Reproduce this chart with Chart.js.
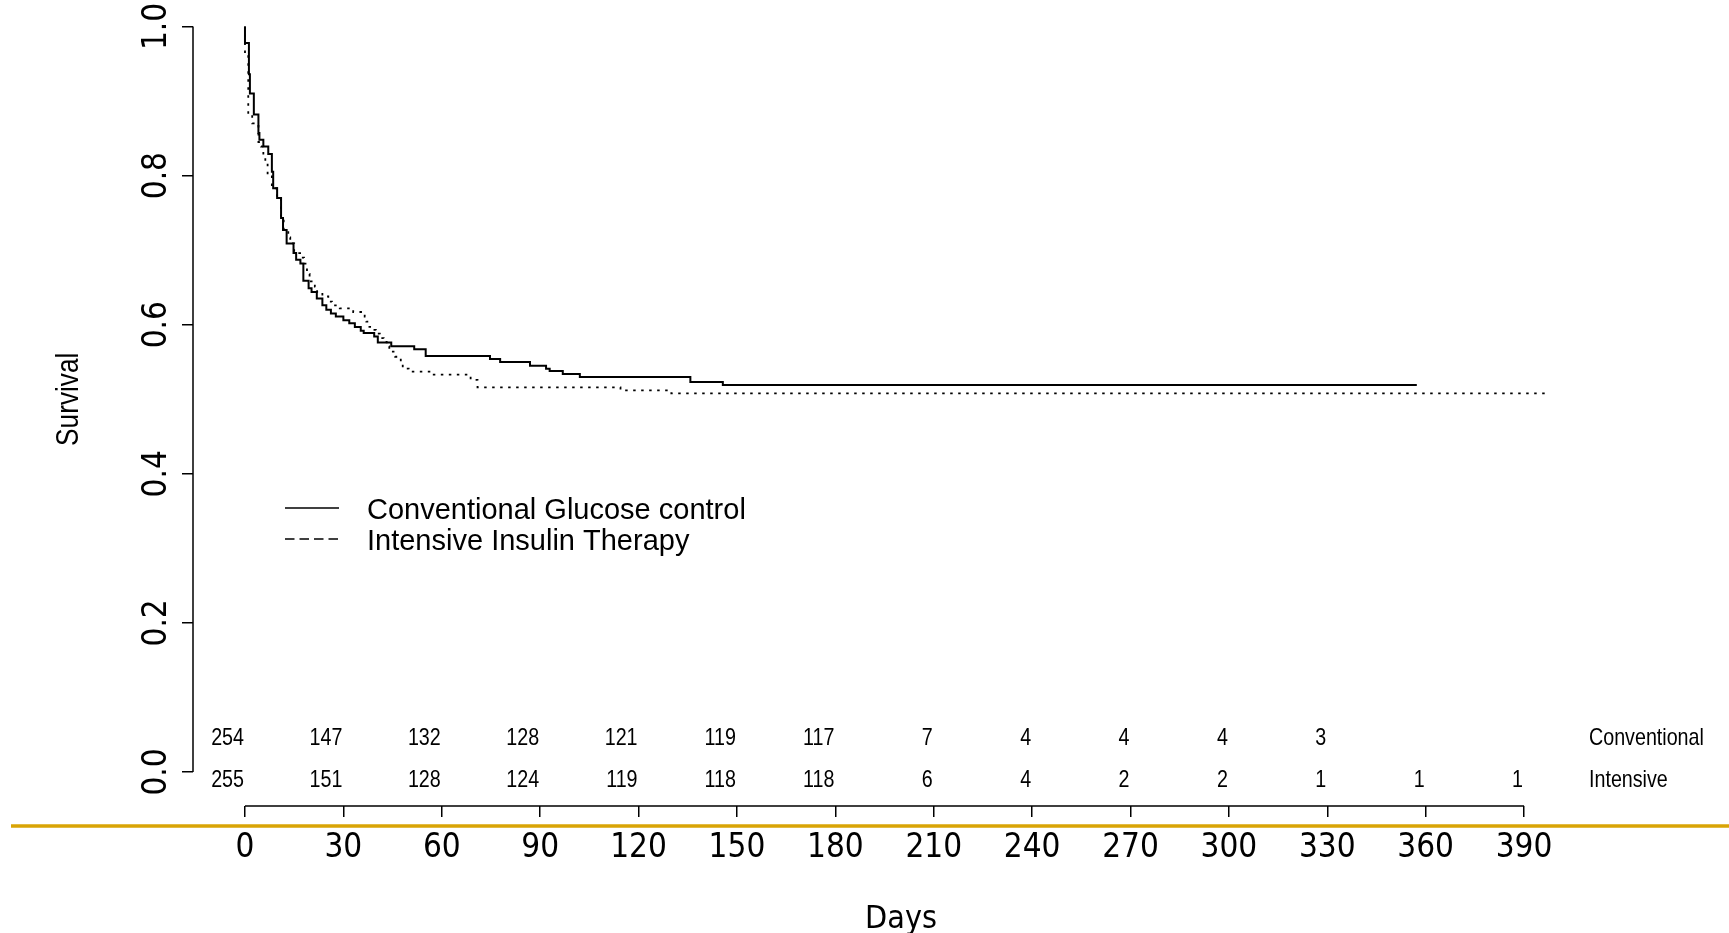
<!DOCTYPE html>
<html><head><meta charset="utf-8">
<script src="https://cdn.jsdelivr.net/npm/chart.js@4.4.1/dist/chart.umd.min.js"></script>
<style>html,body{margin:0;padding:0;background:#fff;overflow:hidden}canvas{display:block}</style>
</head><body>
<canvas id="c" width="1729" height="933"></canvas>
<script>
// ---------- data ----------
const seriesLabels = ['Conventional Glucose control', 'Intensive Insulin Therapy'];
const conventionalDays = [0, 0, 1.2, 1.5, 2.7, 4.1, 4.4, 5.6, 7.1, 8.2, 8.6, 9.8, 11.0, 11.6, 12.7, 14.8, 15.6, 16.9, 17.8, 19.4, 20.3, 21.9, 23.6, 24.8, 26.2, 27.7, 30.0, 31.8, 33.5, 35.3, 36.2, 39.4, 40.5, 44.6, 51.6, 55.1, 74.7, 77.8, 86.9, 91.8, 92.9, 96.9, 102.1, 135.8, 145.7, 357.3];
const conventionalSurv = [1.0, 0.978, 0.936, 0.910, 0.882, 0.857, 0.848, 0.839, 0.829, 0.805, 0.783, 0.770, 0.743, 0.727, 0.709, 0.696, 0.687, 0.682, 0.659, 0.649, 0.644, 0.635, 0.626, 0.620, 0.615, 0.611, 0.606, 0.602, 0.597, 0.592, 0.589, 0.584, 0.576, 0.571, 0.567, 0.558, 0.554, 0.550, 0.545, 0.541, 0.538, 0.534, 0.530, 0.523, 0.519, 0.519];
const intensiveDays = [0, 0, 1.0, 2.2, 4.1, 4.9, 5.6, 6.2, 6.9, 8.2, 9.8, 11.0, 11.8, 13.2, 13.8, 15.0, 16.8, 18.0, 18.9, 19.7, 21.3, 22.0, 23.6, 25.4, 26.5, 28.9, 33.0, 36.5, 37.0, 37.6, 38.8, 39.9, 41.1, 42.3, 43.2, 44.0, 45.8, 47.5, 48.1, 49.9, 56.9, 68.8, 70.9, 114.5, 130.0, 397.6];
const intensiveSurv = [1.0, 0.963, 0.882, 0.870, 0.845, 0.839, 0.826, 0.816, 0.800, 0.783, 0.770, 0.743, 0.727, 0.717, 0.709, 0.696, 0.690, 0.682, 0.668, 0.658, 0.651, 0.644, 0.638, 0.631, 0.626, 0.622, 0.617, 0.611, 0.604, 0.597, 0.593, 0.588, 0.582, 0.577, 0.571, 0.564, 0.557, 0.550, 0.541, 0.537, 0.533, 0.526, 0.516, 0.512, 0.508, 0.508];
const xTickValues = [0, 30, 60, 90, 120, 150, 180, 210, 240, 270, 300, 330, 360, 390];
const yTickValues = [0, 0.2, 0.4, 0.6, 0.8, 1.0];
const riskTimes = [0, 30, 60, 90, 120, 150, 180, 210, 240, 270, 300, 330, 360, 390];
const riskConventional = [254, 147, 132, 128, 121, 119, 117, 7, 4, 4, 4, 3, null, null];
const riskIntensive = [255, 151, 128, 124, 119, 118, 118, 6, 4, 2, 2, 1, 1, 1];
const riskRowLabels = ['Conventional', 'Intensive'];
const xTitle = 'Days';
const yTitle = 'Survival';

// ---------- styling ----------
const NARROW = "'Liberation Sans Narrow','Arial Narrow','DejaVu Sans Condensed',sans-serif";
const REG = "'Liberation Sans',Arial,sans-serif";
Chart.defaults.color = '#000';

const toPts = (xs, ys) => xs.map((v, i) => ({x: v, y: ys[i]}));

function narrowText(ctx, text, x, y, align, size, rot) {
  ctx.save();
  ctx.translate(x, y);
  if (rot) ctx.rotate(rot);
  ctx.scale(0.82, 1);
  ctx.font = size + 'px ' + REG;
  ctx.textAlign = align;
  ctx.textBaseline = 'middle';
  ctx.fillStyle = '#000';
  ctx.fillText(text, 0, 0);
  ctx.restore();
}

const decor = {
  id: 'decor',
  afterDraw(chart) {
    const {ctx, chartArea, scales: {x, y}} = chart;
    ctx.save();
    // axis lines (R style: span first to last tick)
    ctx.strokeStyle = '#000';
    ctx.lineWidth = 1.5;
    ctx.beginPath();
    ctx.moveTo(chartArea.left, y.getPixelForValue(yTickValues[0]));
    ctx.lineTo(chartArea.left, y.getPixelForValue(yTickValues[yTickValues.length - 1]));
    ctx.moveTo(x.getPixelForValue(xTickValues[0]), chartArea.bottom);
    ctx.lineTo(x.getPixelForValue(xTickValues[xTickValues.length - 1]), chartArea.bottom);
    ctx.stroke();

    // golden page rule
    ctx.strokeStyle = '#D9A406';
    ctx.lineWidth = 3.5;
    ctx.beginPath();
    ctx.moveTo(11, 826);
    ctx.lineTo(1729, 826);
    ctx.stroke();

    // numbers at risk
    const rowY = [738, 780];
    [riskConventional, riskIntensive].forEach((row, r) => {
      row.forEach((v, i) => {
        if (v === null) return;
        narrowText(ctx, String(v), x.getPixelForValue(riskTimes[i]) - 1, rowY[r], 'right', 24);
      });
    });
    riskRowLabels.forEach((t, r) => narrowText(ctx, t, 1589, rowY[r], 'left', 24));

    // legend
    const legY = [508, 539];
    chart.data.datasets.forEach((ds, i) => {
      ctx.strokeStyle = '#000';
      ctx.lineWidth = 1.5;
      ctx.setLineDash(i === 0 ? [] : [9.5, 5]);
      ctx.beginPath();
      ctx.moveTo(285, legY[i]);
      ctx.lineTo(339, legY[i]);
      ctx.stroke();
      ctx.setLineDash([]);
      ctx.font = '29px ' + REG;
      ctx.textAlign = 'left';
      ctx.textBaseline = 'middle';
      ctx.fillStyle = '#000';
      ctx.fillText(ds.label, 367, legY[i] + 3);
    });

    // y title
    narrowText(ctx, yTitle, 69, (y.getPixelForValue(0) + y.getPixelForValue(1)) / 2, 'center', 32, -Math.PI / 2);
    ctx.restore();
  }
};

new Chart(document.getElementById('c'), {
  type: 'line',
  data: {
    datasets: [
      {label: seriesLabels[0], data: toPts(conventionalDays, conventionalSurv), borderColor: '#000', borderWidth: 2, stepped: 'before', pointRadius: 0, fill: false, borderCapStyle: 'butt'},
      {label: seriesLabels[1], data: toPts(intensiveDays, intensiveSurv), borderColor: '#000', borderWidth: 1.8, borderDash: [2.5, 5.5], stepped: 'before', pointRadius: 0, fill: false, borderCapStyle: 'butt'}
    ]
  },
  options: {
    responsive: false,
    animation: false,
    devicePixelRatio: 1,
    layout: {padding: {left: 0, top: 20, right: 120, bottom: 0}},
    plugins: {legend: {display: false}, tooltip: {enabled: false}},
    scales: {
      x: {
        type: 'linear', min: -15.85, max: 415.9,
        afterBuildTicks: s => { s.ticks = xTickValues.map(v => ({value: v})); },
        afterFit: s => { s.height = 127; s.paddingLeft = 0; s.paddingRight = 0; },
        ticks: {font: {family: NARROW, size: 33, lineHeight: 1.2}, padding: 12, color: '#000', maxRotation: 0, minRotation: 0, callback: v => String(v)},
        grid: {drawOnChartArea: false, drawTicks: true, tickLength: 11, color: '#000', lineWidth: 1.5},
        border: {display: false},
        title: {display: true, text: xTitle, font: {family: NARROW, size: 32, lineHeight: 0.85}, padding: {top: 0, bottom: 0}, color: '#000'}
      },
      y: {
        type: 'linear', min: -0.0456, max: 1.0087,
        afterBuildTicks: s => { s.ticks = yTickValues.map(v => ({value: v})); },
        afterFit: s => { s.width = 193; s.paddingTop = 0; s.paddingBottom = 0; },
        ticks: {font: {family: NARROW, size: 33, lineHeight: 1.2}, padding: 1, color: '#000', minRotation: 90, maxRotation: 90, crossAlign: 'center', callback: v => v.toFixed(1)},
        grid: {drawOnChartArea: false, drawTicks: true, tickLength: 11, color: '#000', lineWidth: 1.5},
        border: {display: false}
      }
    }
  },
  plugins: [decor]
});
</script>
</body></html>
